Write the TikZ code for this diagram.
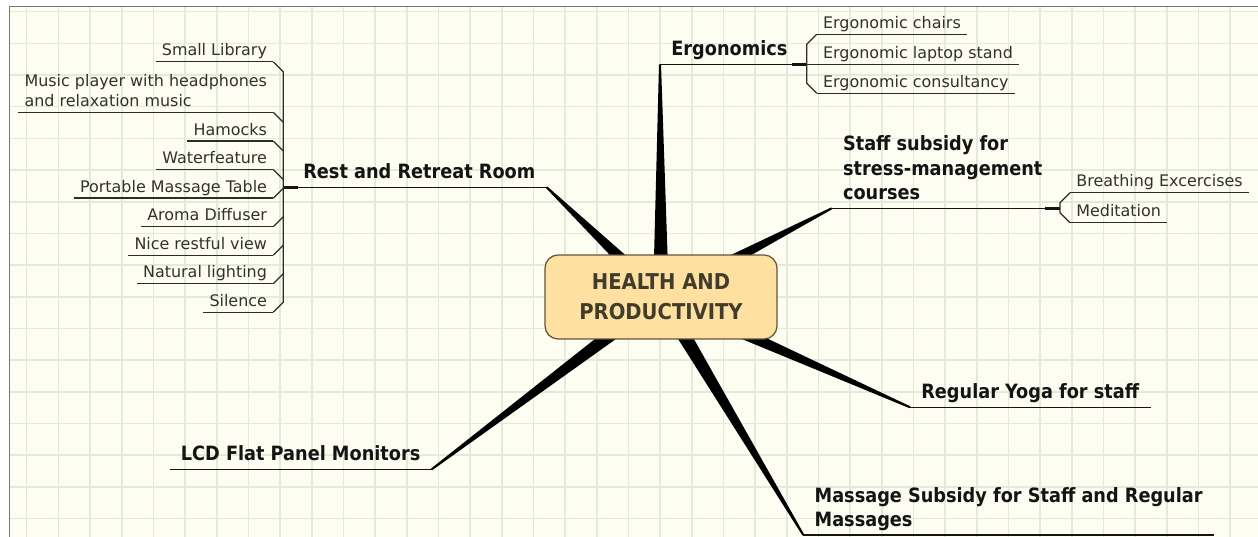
\documentclass[tikz,border=0pt]{standalone}
\usepackage{fontspec}
\setmainfont{DejaVu Sans}
\newfontfamily\topicfont{DejaVu Sans Condensed Bold}
\usetikzlibrary{calc}

\definecolor{papercol}{RGB}{253,253,242}
\definecolor{gridcol}{RGB}{228,233,218}
\definecolor{framecol}{RGB}{120,120,120}
\definecolor{hubfill}{RGB}{254,224,160}
\definecolor{hubline}{RGB}{95,85,60}
\definecolor{hubtext}{RGB}{66,60,44}
\definecolor{topictext}{RGB}{20,20,20}
\definecolor{subtext}{RGB}{50,50,45}
\definecolor{branchline}{RGB}{20,20,20}
\definecolor{twigline}{RGB}{45,45,40}

\pgfdeclarelayer{paper}
\pgfdeclarelayer{spokes}
\pgfsetlayers{paper,spokes,main}

\tikzset{
  hub/.style={draw=hubline, fill=hubfill, line width=0.7pt, rounded corners=0.26cm,
    minimum width=4.64cm, minimum height=1.68cm, align=center,
    font=\topicfont\fontsize{12.4}{17}\selectfont, text=hubtext},
  topic/.style={font=\topicfont\fontsize{11.2}{14}\selectfont, text=topictext,
    text depth=0pt, inner xsep=0.22cm, inner ysep=0.16cm, align=left},
  subtopic/.style={font=\fontsize{9.07}{11.3}\selectfont, text=subtext,
    text depth=0pt, inner xsep=0.12cm, inner ysep=0.11cm, align=left},
  underline/.style={draw=branchline, line width=0.85pt},
  stub/.style={draw=branchline, line width=1.7pt},
  twig/.style={draw=twigline, line width=0.7pt},
  gridline/.style={draw=gridcol, line width=0.9pt}
}

% tapered branch from the centre box to a topic
\newcommand{\spoke}[1]{%
  \fill[black] ($(hp.center)!0.16cm!90:(#1)$) -- ($(#1)!0.02cm!-90:(hp.center)$)
    -- ($(#1)!0.02cm!90:(hp.center)$) -- ($(hp.center)!0.16cm!-90:(#1)$) -- cycle;}

\begin{document}
\begin{tikzpicture}[x=0.02cm,y=-0.02cm]
  \useasboundingbox (0,0) rectangle (1258,537);

  \begin{pgfonlayer}{paper}
    \fill[white] (0,0) rectangle (1258,537);
    \fill[papercol] (9.5,6.5) rectangle (1258,537);
    \foreach \i in {0,...,38}
      \draw[gridline] (26.7+31.67*\i,7) -- (26.7+31.67*\i,537);
    \foreach \j in {0,...,16}
      \draw[gridline] (10,11.7+31.67*\j) -- (1258,11.7+31.67*\j);
    \draw[framecol, line width=0.9pt] (9.5,537) -- (9.5,6.5) -- (1258,6.5);
  \end{pgfonlayer}

  % centre
  \node[hub] (hp) at (661,297) {HEALTH AND\\PRODUCTIVITY};

  % main topics
  \node[topic, anchor=south west] (ergo)    at (660,64.3)    {Ergonomics};
  \node[topic, anchor=south west] (staff)   at (831.7,208.3) {Staff subsidy for\\stress-management\\courses};
  \node[topic, anchor=south west] (yoga)    at (910,407.3)   {Regular Yoga for staff};
  \node[topic, anchor=south west] (massage) at (803.3,535)   {Massage Subsidy for Staff and Regular\\Massages};
  \node[topic, anchor=south east] (lcd)     at (431.7,469.3) {LCD Flat Panel Monitors};
  \node[topic, anchor=south east] (rest)    at (546.7,187.3) {Rest and Retreat Room};

  \coordinate (ergojoin)  at (806.7,64.3);
  \coordinate (staffjoin) at (1060,208.3);
  \coordinate (restjoin)  at (283.3,187.3);

  % sub topics
  \node[subtopic, anchor=south west] (chairs)  at (816.7,34.3)  {Ergonomic chairs};
  \node[subtopic, anchor=south west] (laptop)  at (816.7,64.3)  {Ergonomic laptop stand};
  \node[subtopic, anchor=south west] (consult) at (816.7,93.3)  {Ergonomic consultancy};
  \node[subtopic, anchor=south west] (breath)  at (1070,192.7)  {Breathing Excercises};
  \node[subtopic, anchor=south west] (medit)   at (1070,222.7)  {Meditation};

  \node[subtopic, anchor=south east] (library) at (273.3,61.7)  {Small Library};
  \node[subtopic, anchor=south east] (music)   at (273.3,112.3) {Music player with headphones\\and relaxation music};
  \node[subtopic, anchor=south east] (hamocks) at (273.3,141)   {Hamocks};
  \node[subtopic, anchor=south east] (water)   at (273.3,169.6) {Waterfeature};
  \node[subtopic, anchor=south east] (table)   at (273.3,198.1) {Portable Massage Table};
  \node[subtopic, anchor=south east] (aroma)   at (273.3,226.7) {Aroma Diffuser};
  \node[subtopic, anchor=south east] (view)    at (273.3,255.2) {Nice restful view};
  \node[subtopic, anchor=south east] (light)   at (273.3,283.8) {Natural lighting};
  \node[subtopic, anchor=south east] (silence) at (273.3,312.3) {Silence};

  % spokes
  \begin{pgfonlayer}{spokes}
    \spoke{ergo.south west}
    \spoke{staff.south west}
    \spoke{yoga.south west}
    \spoke{massage.south west}
    \spoke{lcd.south east}
    \spoke{rest.south east}
  \end{pgfonlayer}

  % underlines
  \draw[underline] (ergo.south west) -- (ergojoin);
  \draw[underline] (staff.south west) -- (staffjoin);
  \draw[underline] (rest.south east) -- (restjoin);
  \draw[underline] (yoga.south west) -- (yoga.south east);
  \draw[underline] (massage.south west) -- (massage.south east);
  \draw[underline] (lcd.south west) -- (lcd.south east);
  \draw[stub] (ergojoin) -- ++(-15,0);
  \draw[stub] (staffjoin) -- ++(-15,0);
  \draw[stub] (restjoin) -- ++(15,0);

  \foreach \n in {chairs,laptop,consult,breath,medit,library,music,hamocks,water,table,aroma,view,light,silence}
    \draw[twig] (\n.south west) -- (\n.south east);

  % brackets
  \draw[twig] (chairs.south west) -- ++(-10,10) -- ($(consult.south west)+(-10,-10)$) -- (consult.south west);
  \draw[twig] (ergojoin) -- (laptop.south west);
  \draw[twig] (breath.south west) -- ++(-10,10) -- ($(medit.south west)+(-10,-10)$) -- (medit.south west);
  \draw[twig] (library.south east) -- ++(10,10) -- ($(silence.south east)+(10,-10)$) -- (silence.south east);
  \draw[twig] (music.south east) -- ++(10,10);
  \draw[twig] (hamocks.south east) -- ++(10,10);
  \draw[twig] (water.south east) -- ++(10,10);
  \draw[twig] (table.south east) -- ++(10,-10);
  \draw[twig] (aroma.south east) -- ++(10,-10);
  \draw[twig] (view.south east) -- ++(10,-10);
  \draw[twig] (light.south east) -- ++(10,-10);
\end{tikzpicture}
\end{document}
